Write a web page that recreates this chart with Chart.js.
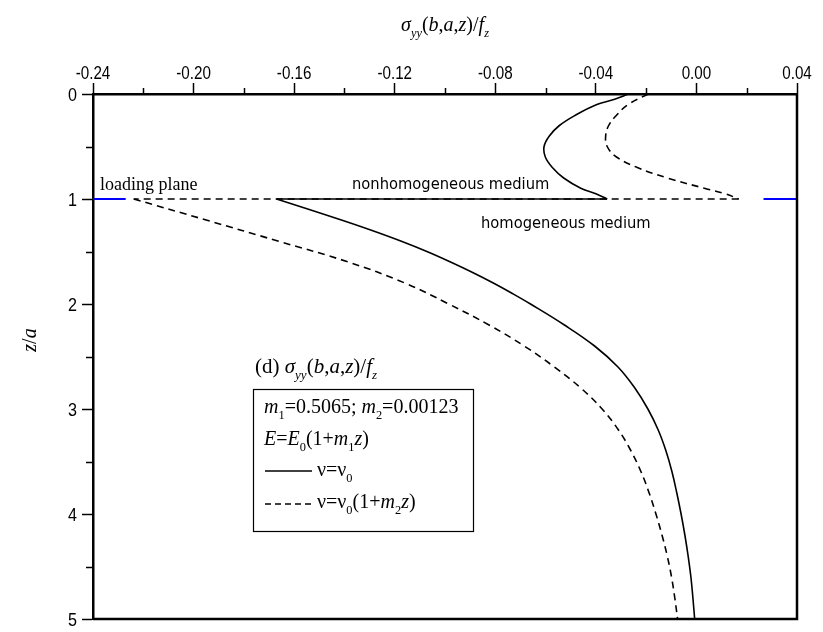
<!DOCTYPE html>
<html>
<head>
<meta charset="utf-8">
<script src="https://cdn.jsdelivr.net/npm/chart.js@4.4.1/dist/chart.umd.min.js"></script>
<style>
  html, body { margin: 0; padding: 0; background: #fff; }
  #wrap { width: 823px; height: 632px; }
</style>
</head>
<body>
<div id="wrap"><canvas id="c" width="823" height="632"></canvas></div>
<script>
// sigma_yy(b,a,z)/f_z against depth z/a
// nu = nu0 : above the loading plane, then below it
const zAboveConst = [0, 0.05, 0.1, 0.2, 0.3, 0.4, 0.5, 0.6, 0.7, 0.8, 0.9, 0.95, 1.0];
const sAboveConst = [-0.027, -0.0325, -0.0396, -0.048, -0.0545, -0.0585, -0.0606, -0.0601, -0.0573, -0.0528, -0.0458, -0.0400, -0.0355];
const zBelowConst = [1.0, 1.1, 1.2, 1.3, 1.4, 1.5, 1.6, 1.7, 1.8, 1.9, 2.0, 2.2, 2.4, 2.6, 2.8, 3.0, 3.2, 3.4, 3.6, 3.8, 4.0, 4.2, 4.4, 4.6, 4.8, 5.0];
const sBelowConst = [-0.167, -0.154, -0.1412, -0.129, -0.1176, -0.1072, -0.0978, -0.0890, -0.0808, -0.0732, -0.0660, -0.0525, -0.0405, -0.0312, -0.0245, -0.0193, -0.0152, -0.0121, -0.0097, -0.0078, -0.0061, -0.0046, -0.0033, -0.0022, -0.0014, -0.0007];

// nu = nu0(1 + m2 z)
const zAboveVar = [0, 0.1, 0.2, 0.3, 0.4, 0.5, 0.6, 0.7, 0.8, 0.9, 0.95, 1.0];
const sAboveVar = [-0.0192, -0.0272, -0.0317, -0.0349, -0.0361, -0.0355, -0.0318, -0.0235, -0.0115, 0.0035, 0.0115, 0.0168];
const zBelowVar = [1.0, 1.2, 1.4, 1.6, 1.8, 2.0, 2.2, 2.4, 2.6, 2.8, 3.0, 3.2, 3.4, 3.6, 3.8, 4.0, 4.2, 4.4, 4.6, 4.8, 5.0];
const sBelowVar = [-0.2238, -0.1950, -0.1665, -0.1385, -0.1160, -0.0985, -0.0825, -0.0685, -0.0565, -0.0460, -0.0375, -0.0310, -0.0260, -0.0220, -0.0188, -0.0161, -0.0137, -0.0116, -0.0099, -0.0086, -0.0075];

// loading plane markers at z/a = 1
const loadingLeftX = [-0.24, -0.227];
const loadingRightX = [0.0267, 0.04];
const loadingZ = 1;

// axis ticks
const xTicks = [-0.24, -0.20, -0.16, -0.12, -0.08, -0.04, 0.00, 0.04];
const xMinorTicks = [-0.22, -0.18, -0.14, -0.10, -0.06, -0.02, 0.02];
const yTicks = [0, 1, 2, 3, 4, 5];
const yMinorTicks = [0.5, 1.5, 2.5, 3.5, 4.5];

const pts = (xs, zs) => xs.map((v, i) => ({ x: v, y: zs[i] }));
// the jump across the loading plane joins the end of one branch to the start of the next
const jump = (xa, xb) => [{ x: xa[xa.length - 1], y: loadingZ }, { x: xb[0], y: loadingZ }];

const SERIF = '"Liberation Serif", "Times New Roman", serif';
const SANS = '"Liberation Sans", Arial, sans-serif';

// draws a run of text pieces; style: r roman, i italic, sr / si subscripts
function richWidth(ctx, parts, size) {
  let w = 0;
  for (const [t, st] of parts) {
    const sub = st[0] === 's';
    const it = st.endsWith('i');
    ctx.font = (it ? 'italic ' : '') + (sub ? size * 0.62 : size) + 'px ' + SERIF;
    w += ctx.measureText(t).width;
  }
  return w;
}
function drawRich(ctx, parts, x, y, size, align) {
  let cx = x;
  if (align === 'center') cx = x - richWidth(ctx, parts, size) / 2;
  ctx.textBaseline = 'alphabetic';
  ctx.textAlign = 'left';
  for (const [t, st] of parts) {
    const sub = st[0] === 's';
    const it = st.endsWith('i');
    ctx.font = (it ? 'italic ' : '') + (sub ? size * 0.62 : size) + 'px ' + SERIF;
    ctx.fillText(t, cx, y + (sub ? size * 0.3 : 0));
    cx += ctx.measureText(t).width;
  }
  return cx;
}
function drawScaledText(ctx, t, x, y, font, sx, align) {
  ctx.save();
  ctx.font = font;
  ctx.textAlign = align || 'left';
  ctx.textBaseline = 'alphabetic';
  ctx.translate(x, y);
  ctx.scale(sx, 1);
  ctx.fillText(t, 0, 0);
  ctx.restore();
}

const decorations = {
  id: 'decorations',
  afterDraw(chart) {
    const ctx = chart.ctx;
    const a = chart.chartArea;
    const xs = chart.scales.x, ys = chart.scales.y;
    ctx.save();
    ctx.strokeStyle = '#000';
    ctx.fillStyle = '#000';

    // closing frame on the right and bottom
    ctx.lineWidth = 2.5;
    ctx.beginPath();
    ctx.moveTo(a.right, a.top - 1);
    ctx.lineTo(a.right, a.bottom);
    ctx.lineTo(a.left, a.bottom);
    ctx.stroke();

    // minor ticks
    ctx.lineWidth = 1.5;
    ctx.beginPath();
    for (const v of xMinorTicks) {
      const px = Math.round(xs.getPixelForValue(v)) + 0.5;
      ctx.moveTo(px, a.top);
      ctx.lineTo(px, a.top - 6);
    }
    for (const v of yMinorTicks) {
      const py = Math.round(ys.getPixelForValue(v)) + 0.5;
      ctx.moveTo(a.left, py);
      ctx.lineTo(a.left - 7, py);
    }
    ctx.stroke();

    // tick labels in a narrow sans face
    const tickFont = '19px ' + SANS;
    for (const v of xTicks) {
      const label = (Math.abs(v) < 1e-9 ? 0 : v).toFixed(2);
      drawScaledText(ctx, label, xs.getPixelForValue(v), 79, tickFont, 0.8, 'center');
    }
    for (const v of yTicks) {
      drawScaledText(ctx, String(v), 77, ys.getPixelForValue(v) + 7, tickFont, 0.85, 'right');
    }

    // axis titles
    drawRich(ctx, [['σ', 'i'], ['yy', 'si'], ['(', 'r'], ['b', 'i'], [',', 'r'], ['a', 'i'], [',', 'r'], ['z', 'i'], [')/', 'r'], ['f', 'i'], ['z', 'si']], 445, 31, 20, 'center');
    ctx.save();
    ctx.translate(36, 340);
    ctx.rotate(-Math.PI / 2);
    drawRich(ctx, [['z', 'i'], ['/', 'r'], ['a', 'i']], 0, 0, 20, 'center');
    ctx.restore();

    // annotations around the loading plane
    drawRich(ctx, [['loading plane', 'r']], 100, 190, 18, 'left');
    drawScaledText(ctx, 'nonhomogeneous medium', 352, 189, '16px "DejaVu Sans", sans-serif', 0.92);
    drawScaledText(ctx, 'homogeneous medium', 481, 228, '16px "DejaVu Sans", sans-serif', 0.92);

    // key
    drawRich(ctx, [['(d) ', 'r'], ['σ', 'i'], ['yy', 'si'], ['(', 'r'], ['b', 'i'], [',', 'r'], ['a', 'i'], [',', 'r'], ['z', 'i'], [')/', 'r'], ['f', 'i'], ['z', 'si']], 255, 373, 21, 'left');
    const bx = 253, by = 389, bw = 220, bh = 142;
    ctx.lineWidth = 1.2;
    ctx.strokeRect(bx + 0.5, by + 0.5, bw, bh);
    const ks = 20;
    drawRich(ctx, [['m', 'i'], ['1', 'sr'], ['=0.5065; ', 'r'], ['m', 'i'], ['2', 'sr'], ['=0.00123', 'r']], 264, 413, ks, 'left');
    drawRich(ctx, [['E', 'i'], ['=', 'r'], ['E', 'i'], ['0', 'sr'], ['(1+', 'r'], ['m', 'i'], ['1', 'sr'], ['z', 'i'], [')', 'r']], 264, 445, ks, 'left');
    ctx.lineWidth = 1.5;
    ctx.beginPath();
    ctx.moveTo(265, 471); ctx.lineTo(312, 471);
    ctx.stroke();
    drawRich(ctx, [['ν=ν', 'r'], ['0', 'sr']], 317, 476, ks, 'left');
    ctx.setLineDash([6, 4]);
    ctx.beginPath();
    ctx.moveTo(265, 504); ctx.lineTo(312, 504);
    ctx.stroke();
    ctx.setLineDash([]);
    drawRich(ctx, [['ν=ν', 'r'], ['0', 'sr'], ['(1+', 'r'], ['m', 'i'], ['2', 'sr'], ['z', 'i'], [')', 'r']], 317, 508, ks, 'left');

    ctx.restore();
  }
};

const solid = { showLine: true, borderColor: '#000', borderWidth: 1.6, pointRadius: 0, fill: false };
const dashed = Object.assign({}, solid, { borderDash: [7, 5] });

new Chart(document.getElementById('c'), {
  type: 'scatter',
  data: {
    datasets: [
      Object.assign({ data: pts(sAboveConst, zAboveConst), tension: 0.4 }, solid),
      Object.assign({ data: jump(sAboveConst, sBelowConst), tension: 0 }, solid),
      Object.assign({ data: pts(sBelowConst, zBelowConst), tension: 0.4 }, solid),
      Object.assign({ data: pts(sAboveVar, zAboveVar), tension: 0.4 }, dashed),
      Object.assign({ data: jump(sAboveVar, sBelowVar), tension: 0 }, dashed),
      Object.assign({ data: pts(sBelowVar, zBelowVar), tension: 0.4 }, dashed),
      { data: loadingLeftX.map(v => ({ x: v, y: loadingZ })), showLine: true, borderColor: '#0000ff', borderWidth: 2, pointRadius: 0 },
      { data: loadingRightX.map(v => ({ x: v, y: loadingZ })), showLine: true, borderColor: '#0000ff', borderWidth: 2, pointRadius: 0 }
    ]
  },
  options: {
    responsive: false,
    animation: false,
    devicePixelRatio: 1,
    layout: { padding: { left: 0, top: 0, right: 26, bottom: 13 } },
    plugins: { legend: { display: false }, tooltip: { enabled: false } },
    scales: {
      x: {
        type: 'linear', position: 'top', min: -0.24, max: 0.04,
        afterBuildTicks: s => { s.ticks = xTicks.map(v => ({ value: v })); },
        afterFit: s => { s.height = 94; },
        ticks: { display: false },
        grid: { drawOnChartArea: false, color: '#000', tickLength: 11, tickWidth: 1.5 },
        border: { color: '#000', width: 2.5 }
      },
      y: {
        type: 'linear', reverse: true, min: 0, max: 5,
        afterBuildTicks: s => { s.ticks = yTicks.map(v => ({ value: v })); },
        afterFit: s => { s.width = 93; },
        ticks: { display: false },
        grid: { drawOnChartArea: false, color: '#000', tickLength: 11, tickWidth: 1.5 },
        border: { color: '#000', width: 2.5 }
      }
    }
  },
  plugins: [decorations]
});
</script>
</body>
</html>
